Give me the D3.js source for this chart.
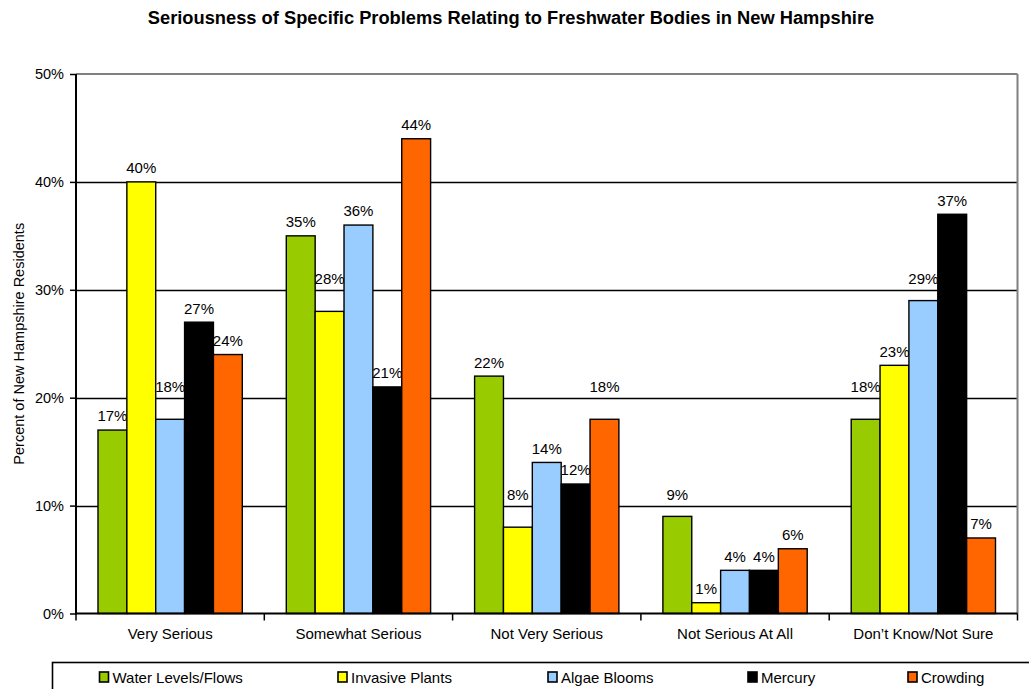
<!DOCTYPE html>
<html>
<head>
<meta charset="utf-8">
<script src="https://cdn.jsdelivr.net/npm/d3@7"></script>
<style>
  html, body { margin: 0; padding: 0; background: #fff; }
  svg { display: block; font-family: "Liberation Sans", Arial, sans-serif; }
</style>
</head>
<body>
<svg id="chart" width="1029" height="689"></svg>
<script>
const title = "Seriousness of Specific Problems Relating to Freshwater Bodies in New Hampshire";
const yAxisTitle = "Percent of New Hampshire Residents";
const categories = ["Very Serious", "Somewhat Serious", "Not Very Serious", "Not Serious At All", "Don\u2019t Know/Not Sure"];
const seriesNames = ["Water Levels/Flows", "Invasive Plants", "Algae Blooms", "Mercury", "Crowding"];
const seriesColors = ["#99CC00", "#FFFF00", "#99CCFF", "#000000", "#FF6600"];
const waterLevels = [17, 35, 22, 9, 18];
const invasivePlants = [40, 28, 8, 1, 23];
const algaeBlooms = [18, 36, 14, 4, 29];
const mercury = [27, 21, 12, 4, 37];
const crowding = [24, 44, 18, 6, 7];
const yTicks = [0, 10, 20, 30, 40, 50];

const seriesValues = [waterLevels, invasivePlants, algaeBlooms, mercury, crowding];

const svg = d3.select("#chart");
const plot = { left: 76, right: 1017.5, top: 74, bottom: 613.5 };
const FONT = "Liberation Sans, Arial, sans-serif";

const x = d3.scaleBand().domain(categories).range([plot.left, plot.right]).paddingInner(0).paddingOuter(0);
const groupPad = 22;
const inner = d3.scaleBand().domain(seriesNames).range([groupPad, x.bandwidth() - groupPad]).padding(0);
const y = d3.scaleLinear().domain([0, 50]).range([plot.bottom, plot.top]);

// Title
svg.append("text")
  .attr("x", 511).attr("y", 24)
  .attr("text-anchor", "middle")
  .attr("font-weight", "bold")
  .attr("font-size", 18.3)
  .attr("fill", "#000")
  .text(title);

// Y axis title
svg.append("text")
  .attr("transform", `translate(19,${(plot.top + plot.bottom) / 2}) rotate(-90)`)
  .attr("text-anchor", "middle")
  .attr("dy", "0.36em")
  .attr("font-size", 14.5)
  .attr("fill", "#000")
  .text(yAxisTitle);

// Gridlines
svg.append("g").selectAll("line")
  .data(yTicks.filter(t => t > 0 && t < 50))
  .join("line")
  .attr("x1", plot.left).attr("x2", plot.right)
  .attr("y1", d => Math.round(y(d)) + 0.5).attr("y2", d => Math.round(y(d)) + 0.5)
  .attr("stroke", "#000").attr("stroke-width", 1.3);

// Plot border (top & right) gray
svg.append("line").attr("x1", plot.left).attr("x2", plot.right).attr("y1", plot.top).attr("y2", plot.top)
  .attr("stroke", "#808080").attr("stroke-width", 2);
svg.append("line").attr("x1", plot.right).attr("x2", plot.right).attr("y1", plot.top).attr("y2", plot.bottom)
  .attr("stroke", "#808080").attr("stroke-width", 2);

// Bars and labels, series by series
const gridVals = yTicks.filter(t => t > 0 && t < 50).map(t => y(t));
seriesNames.forEach((s, si) => {
  const g = svg.append("g");
  const vals = seriesValues[si];
  const rows = categories.map((c, ci) => ({ c, v: vals[ci] }));
  g.selectAll("rect")
    .data(rows)
    .join("rect")
    .attr("x", d => x(d.c) + inner(s))
    .attr("y", d => y(d.v))
    .attr("width", inner.bandwidth())
    .attr("height", d => y(0) - y(d.v))
    .attr("fill", seriesColors[si])
    .attr("stroke", "#000")
    .attr("stroke-width", 1.4);
  g.selectAll("text")
    .data(rows)
    .join("text")
    .attr("x", d => x(d.c) + inner(s) + inner.bandwidth() / 2)
    .attr("y", d => {
      let cy = y(d.v) - 14;
      // avoid sitting on a gridline: move the label above it
      gridVals.forEach(gy => { if (Math.abs(cy - gy) < 10) cy = gy - 11; });
      return cy;
    })
    .attr("dy", "0.36em")
    .attr("text-anchor", "middle")
    .attr("font-size", 15)
    .attr("fill", "#000")
    .text(d => d.v + "%");
});

// Y axis
const yAxis = d3.axisLeft(y).tickValues(yTicks).tickFormat(d => d + "%").tickSize(6).tickPadding(6);
const yg = svg.append("g").attr("transform", `translate(${plot.left},0)`).call(yAxis);
yg.select(".domain").remove();
yg.selectAll(".tick line").attr("stroke", "#000").attr("stroke-width", 1.5);
yg.selectAll(".tick text").attr("font-size", 14.5).attr("font-family", FONT).attr("fill", "#000");
svg.append("line").attr("x1", plot.left).attr("x2", plot.left).attr("y1", plot.top).attr("y2", plot.bottom + 1)
  .attr("stroke", "#000").attr("stroke-width", 2);

// X axis
const xAxis = d3.axisBottom(x).tickSize(0).tickPadding(15);
const xg = svg.append("g").attr("transform", `translate(0,${plot.bottom})`).call(xAxis);
xg.select(".domain").remove();
xg.selectAll(".tick text").attr("font-size", 15).attr("font-family", FONT).attr("fill", "#000");
// category boundary ticks
const boundaries = categories.map(c => x(c)).concat([plot.right]);
svg.append("g").selectAll("line").data(boundaries).join("line")
  .attr("x1", d => d).attr("x2", d => d)
  .attr("y1", plot.bottom).attr("y2", plot.bottom + 7)
  .attr("stroke", "#000").attr("stroke-width", 1.5);
svg.append("line").attr("x1", plot.left - 1).attr("x2", plot.right).attr("y1", plot.bottom).attr("y2", plot.bottom)
  .attr("stroke", "#000").attr("stroke-width", 2);

// Legend
const legendX = [99.5, 338, 548, 748, 908];
svg.append("rect")
  .attr("x", 52.5).attr("y", 662.5).attr("width", 1000).attr("height", 60)
  .attr("fill", "none").attr("stroke", "#000").attr("stroke-width", 1.6);
const lg = svg.append("g").selectAll("g").data(seriesNames).join("g")
  .attr("transform", (d, i) => `translate(${legendX[i]},672)`);
lg.append("rect").attr("x", 0).attr("y", 0).attr("width", 9).attr("height", 10)
  .attr("fill", (d, i) => seriesColors[i]).attr("stroke", "#000").attr("stroke-width", 1.6);
lg.append("text").attr("x", 13).attr("y", 6).attr("dy", "0.36em")
  .attr("font-size", 15).attr("fill", "#000").text(d => d);
</script>
</body>
</html>
